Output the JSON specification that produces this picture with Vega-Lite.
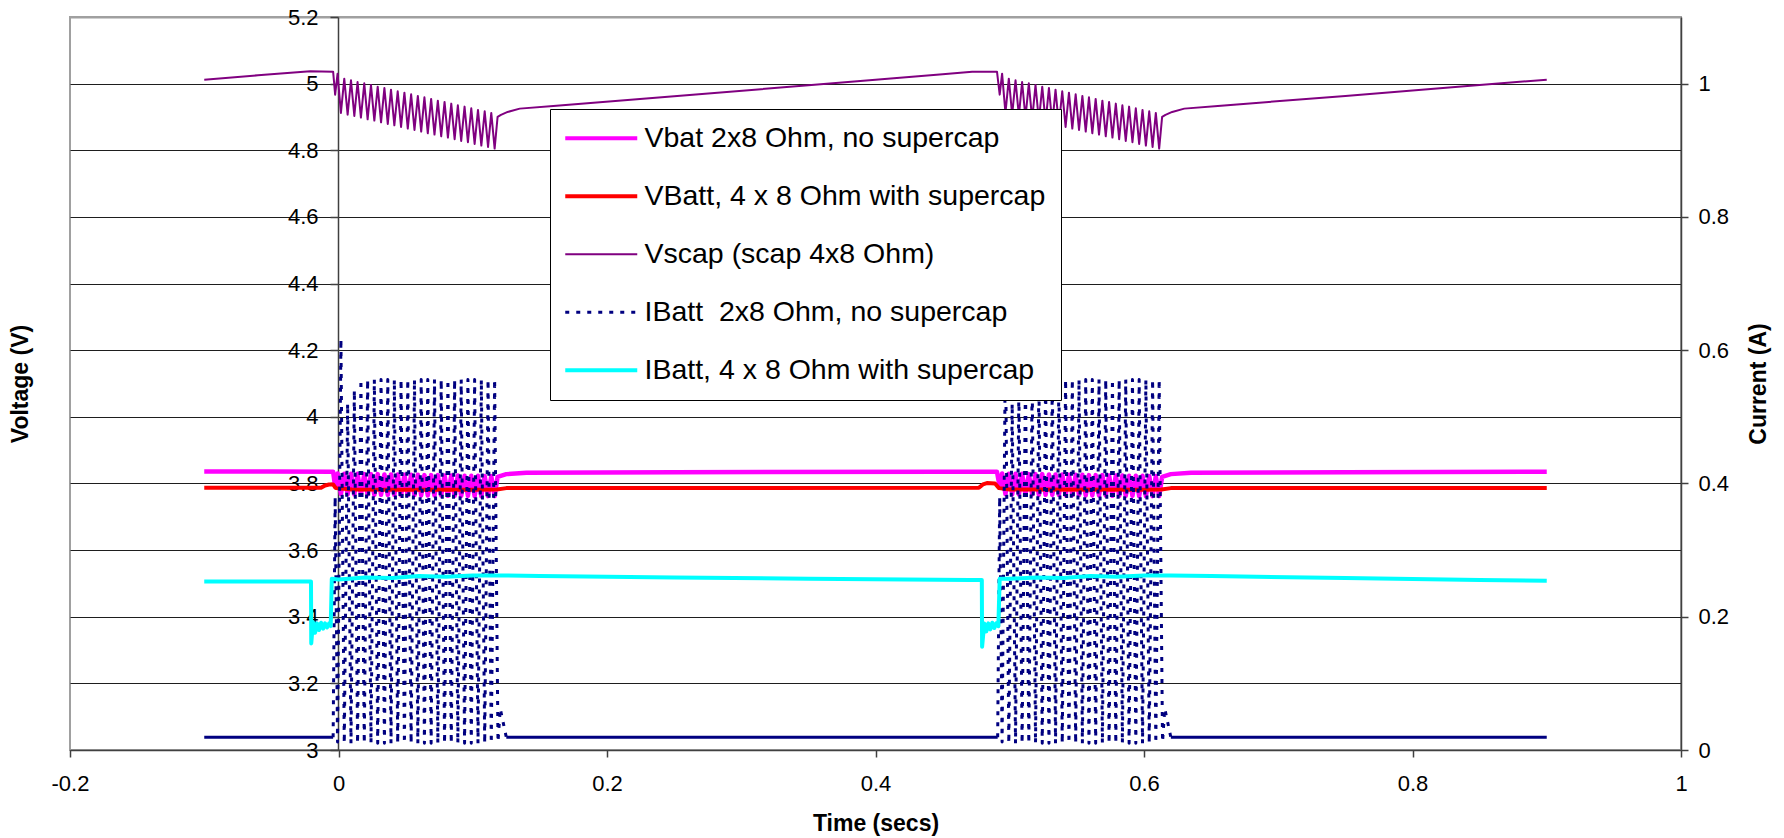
{
  "$schema": "https://vega.github.io/schema/vega-lite/v6.json",
  "width": 1611,
  "height": 733,
  "autosize": {"type": "none"},
  "padding": {"left": 70, "top": 17, "right": 103, "bottom": 88},
  "background": "white",
  "config": {
    "font": "Liberation Sans",
    "view": {"stroke": "#a0a0a0", "strokeWidth": 2},
    "axis": {
      "labelFont": "Liberation Sans", "labelFontSize": 22, "labelColor": "black",
      "titleFont": "Liberation Sans", "titleFontSize": 23, "titleFontWeight": "bold", "titleColor": "black",
      "domainColor": "#404040", "domainWidth": 1.5, "tickColor": "#404040", "tickWidth": 1.5,
      "grid": false, "labelOverlap": false, "labelFlush": false
    },
    "legend": {
      "orient": "none", "legendX": 480, "legendY": 92,
      "symbolType": "M-1.4,0H5.8", "symbolSize": 400, "symbolStrokeWidth": 3.5,
      "labelOffset": 51, "labelFont": "Liberation Sans", "labelFontSize": 28.5, "labelColor": "black", "labelLimit": 700,
      "rowPadding": 29, "padding": 15, "strokeColor": "black", "fillColor": "white"
    }
  },
  "datasets": {
    "vb2": [
      {"t":-0.1,"v":3.836},{"t":-0.05,"v":3.836},{"t":-0.004,"v":3.835},{"t":-0.0025,"v":3.79},
      {"t":-0.0007,"v":3.83},{"t":0.0018,"v":3.768},{"t":0.0043,"v":3.829},{"t":0.0068,"v":3.767},
      {"t":0.0093,"v":3.829},{"t":0.0118,"v":3.767},{"t":0.0142,"v":3.829},{"t":0.0167,"v":3.767},
      {"t":0.0192,"v":3.828},{"t":0.0217,"v":3.767},{"t":0.0242,"v":3.828},{"t":0.0267,"v":3.766},
      {"t":0.0292,"v":3.828},{"t":0.0317,"v":3.766},{"t":0.0342,"v":3.827},{"t":0.0367,"v":3.766},
      {"t":0.0391,"v":3.827},{"t":0.0416,"v":3.766},{"t":0.0441,"v":3.827},{"t":0.0466,"v":3.765},
      {"t":0.0491,"v":3.826},{"t":0.0516,"v":3.765},{"t":0.0541,"v":3.826},{"t":0.0566,"v":3.765},
      {"t":0.0591,"v":3.826},{"t":0.0616,"v":3.764},{"t":0.064,"v":3.825},{"t":0.0665,"v":3.764},
      {"t":0.069,"v":3.825},{"t":0.0715,"v":3.764},{"t":0.074,"v":3.825},{"t":0.0765,"v":3.764},
      {"t":0.079,"v":3.824},{"t":0.0815,"v":3.763},{"t":0.084,"v":3.824},{"t":0.0865,"v":3.763},
      {"t":0.0889,"v":3.824},{"t":0.0914,"v":3.763},{"t":0.0939,"v":3.823},{"t":0.0964,"v":3.763},
      {"t":0.0989,"v":3.823},{"t":0.1014,"v":3.762},{"t":0.1039,"v":3.823},{"t":0.1064,"v":3.762},
      {"t":0.1089,"v":3.822},{"t":0.1114,"v":3.762},{"t":0.1138,"v":3.822},{"t":0.1163,"v":3.762},
      {"t":0.1185,"v":3.82},{"t":0.125,"v":3.828},{"t":0.14,"v":3.832},{"t":0.25,"v":3.834},
      {"t":0.45,"v":3.835},{"t":0.4905,"v":3.835},{"t":0.4925,"v":3.79},
      {"t":0.4943,"v":3.83},{"t":0.4968,"v":3.768},{"t":0.4993,"v":3.829},{"t":0.5018,"v":3.767},
      {"t":0.5043,"v":3.829},{"t":0.5068,"v":3.767},{"t":0.5092,"v":3.829},{"t":0.5117,"v":3.767},
      {"t":0.5142,"v":3.828},{"t":0.5167,"v":3.767},{"t":0.5192,"v":3.828},{"t":0.5217,"v":3.766},
      {"t":0.5242,"v":3.828},{"t":0.5267,"v":3.766},{"t":0.5292,"v":3.827},{"t":0.5317,"v":3.766},
      {"t":0.5341,"v":3.827},{"t":0.5366,"v":3.766},{"t":0.5391,"v":3.827},{"t":0.5416,"v":3.765},
      {"t":0.5441,"v":3.826},{"t":0.5466,"v":3.765},{"t":0.5491,"v":3.826},{"t":0.5516,"v":3.765},
      {"t":0.5541,"v":3.826},{"t":0.5566,"v":3.764},{"t":0.559,"v":3.825},{"t":0.5615,"v":3.764},
      {"t":0.564,"v":3.825},{"t":0.5665,"v":3.764},{"t":0.569,"v":3.825},{"t":0.5715,"v":3.764},
      {"t":0.574,"v":3.824},{"t":0.5765,"v":3.763},{"t":0.579,"v":3.824},{"t":0.5815,"v":3.763},
      {"t":0.5839,"v":3.824},{"t":0.5864,"v":3.763},{"t":0.5889,"v":3.823},{"t":0.5914,"v":3.763},
      {"t":0.5939,"v":3.823},{"t":0.5964,"v":3.762},{"t":0.5989,"v":3.823},{"t":0.6014,"v":3.762},
      {"t":0.6039,"v":3.822},{"t":0.6064,"v":3.762},{"t":0.6088,"v":3.822},{"t":0.6113,"v":3.762},
      {"t":0.6135,"v":3.82},{"t":0.62,"v":3.828},{"t":0.635,"v":3.832},{"t":0.75,"v":3.834},{"t":0.9,"v":3.835}
    ],
    "vb4": [
      {"t":-0.1,"v":3.787},{"t":-0.013,"v":3.787},{"t":-0.01,"v":3.794},{"t":-0.007,"v":3.797},
      {"t":-0.004,"v":3.797},{"t":-0.002,"v":3.786},{"t":0.01,"v":3.782},{"t":0.05,"v":3.781},
      {"t":0.1,"v":3.781},{"t":0.118,"v":3.782},{"t":0.125,"v":3.786},{"t":0.3,"v":3.786},
      {"t":0.477,"v":3.787},{"t":0.48,"v":3.797},{"t":0.483,"v":3.801},{"t":0.489,"v":3.8},
      {"t":0.492,"v":3.786},{"t":0.5,"v":3.782},{"t":0.6,"v":3.781},{"t":0.613,"v":3.782},
      {"t":0.62,"v":3.786},{"t":0.9,"v":3.786}
    ],
    "vsc": [
      {"t":-0.1,"v":5.012},{"t":-0.06,"v":5.025},{"t":-0.021,"v":5.037},{"t":-0.004,"v":5.036},{"t":-0.0025,"v":4.967},
      {"t":-0.0007,"v":5.03},{"t":0.0018,"v":4.912},{"t":0.0043,"v":5.015},{"t":0.0068,"v":4.907},
      {"t":0.0093,"v":5.01},{"t":0.0118,"v":4.903},{"t":0.0142,"v":5.005},{"t":0.0167,"v":4.898},
      {"t":0.0192,"v":5.001},{"t":0.0217,"v":4.893},{"t":0.0242,"v":4.996},{"t":0.0267,"v":4.889},
      {"t":0.0292,"v":4.991},{"t":0.0317,"v":4.884},{"t":0.0342,"v":4.987},{"t":0.0367,"v":4.879},
      {"t":0.0391,"v":4.982},{"t":0.0416,"v":4.875},{"t":0.0441,"v":4.977},{"t":0.0466,"v":4.87},
      {"t":0.0491,"v":4.973},{"t":0.0516,"v":4.865},{"t":0.0541,"v":4.968},{"t":0.0566,"v":4.861},
      {"t":0.0591,"v":4.963},{"t":0.0616,"v":4.856},{"t":0.064,"v":4.959},{"t":0.0665,"v":4.851},
      {"t":0.069,"v":4.954},{"t":0.0715,"v":4.847},{"t":0.074,"v":4.949},{"t":0.0765,"v":4.842},
      {"t":0.079,"v":4.945},{"t":0.0815,"v":4.838},{"t":0.084,"v":4.94},{"t":0.0865,"v":4.833},
      {"t":0.0889,"v":4.935},{"t":0.0914,"v":4.828},{"t":0.0939,"v":4.931},{"t":0.0964,"v":4.824},
      {"t":0.0989,"v":4.926},{"t":0.1014,"v":4.819},{"t":0.1039,"v":4.921},{"t":0.1064,"v":4.814},
      {"t":0.1089,"v":4.917},{"t":0.1114,"v":4.81},{"t":0.1138,"v":4.912},{"t":0.1163,"v":4.805},
      {"t":0.1185,"v":4.9},{"t":0.121,"v":4.906},{"t":0.126,"v":4.915},{"t":0.135,"v":4.925},
      {"t":0.16,"v":4.933},{"t":0.25,"v":4.962},{"t":0.35,"v":4.995},{"t":0.45,"v":5.028},
      {"t":0.472,"v":5.036},{"t":0.4905,"v":5.036},{"t":0.4925,"v":4.967},
      {"t":0.4943,"v":5.03},{"t":0.4968,"v":4.912},{"t":0.4993,"v":5.015},{"t":0.5018,"v":4.907},
      {"t":0.5043,"v":5.01},{"t":0.5068,"v":4.903},{"t":0.5092,"v":5.005},{"t":0.5117,"v":4.898},
      {"t":0.5142,"v":5.001},{"t":0.5167,"v":4.893},{"t":0.5192,"v":4.996},{"t":0.5217,"v":4.889},
      {"t":0.5242,"v":4.991},{"t":0.5267,"v":4.884},{"t":0.5292,"v":4.987},{"t":0.5317,"v":4.879},
      {"t":0.5341,"v":4.982},{"t":0.5366,"v":4.875},{"t":0.5391,"v":4.977},{"t":0.5416,"v":4.87},
      {"t":0.5441,"v":4.973},{"t":0.5466,"v":4.865},{"t":0.5491,"v":4.968},{"t":0.5516,"v":4.861},
      {"t":0.5541,"v":4.963},{"t":0.5566,"v":4.856},{"t":0.559,"v":4.959},{"t":0.5615,"v":4.851},
      {"t":0.564,"v":4.954},{"t":0.5665,"v":4.847},{"t":0.569,"v":4.949},{"t":0.5715,"v":4.842},
      {"t":0.574,"v":4.945},{"t":0.5765,"v":4.838},{"t":0.579,"v":4.94},{"t":0.5815,"v":4.833},
      {"t":0.5839,"v":4.935},{"t":0.5864,"v":4.828},{"t":0.5889,"v":4.931},{"t":0.5914,"v":4.824},
      {"t":0.5939,"v":4.926},{"t":0.5964,"v":4.819},{"t":0.5989,"v":4.921},{"t":0.6014,"v":4.814},
      {"t":0.6039,"v":4.917},{"t":0.6064,"v":4.81},{"t":0.6088,"v":4.912},{"t":0.6113,"v":4.805},
      {"t":0.6135,"v":4.9},{"t":0.616,"v":4.906},{"t":0.621,"v":4.915},{"t":0.63,"v":4.925},
      {"t":0.655,"v":4.933},{"t":0.75,"v":4.963},{"t":0.85,"v":4.996},{"t":0.9,"v":5.012}
    ],
    "ib2idle": [
      {"t":-0.1,"a":0.019},{"t":-0.004,"a":0.019},{"t":0.06,"a":null},
      {"t":0.125,"a":0.019},{"t":0.3,"a":0.019},{"t":0.491,"a":0.019},{"t":0.55,"a":null},
      {"t":0.62,"a":0.019},{"t":0.9,"a":0.019}
    ],
    "ib2pulse": [
      {"t":-0.004,"a":0.019},{"t":-0.0025,"a":0.38},{"t":-0.0007,"a":0.012},{"t":0.0018,"a":0.617},
      {"t":0.0043,"a":0.01},{"t":0.0068,"a":0.52},{"t":0.0093,"a":0.01},{"t":0.0118,"a":0.54},
      {"t":0.0142,"a":0.01},{"t":0.0167,"a":0.556},{"t":0.0192,"a":0.01},{"t":0.0217,"a":0.556},
      {"t":0.0242,"a":0.01},{"t":0.0267,"a":0.556},{"t":0.0292,"a":0.01},{"t":0.0317,"a":0.556},
      {"t":0.0342,"a":0.01},{"t":0.0367,"a":0.556},{"t":0.0391,"a":0.01},{"t":0.0416,"a":0.556},
      {"t":0.0441,"a":0.01},{"t":0.0466,"a":0.556},{"t":0.0491,"a":0.01},{"t":0.0516,"a":0.556},
      {"t":0.0541,"a":0.01},{"t":0.0566,"a":0.556},{"t":0.0591,"a":0.01},{"t":0.0616,"a":0.556},
      {"t":0.064,"a":0.01},{"t":0.0665,"a":0.556},{"t":0.069,"a":0.01},{"t":0.0715,"a":0.556},
      {"t":0.074,"a":0.01},{"t":0.0765,"a":0.556},{"t":0.079,"a":0.01},{"t":0.0815,"a":0.556},
      {"t":0.084,"a":0.01},{"t":0.0865,"a":0.556},{"t":0.0889,"a":0.01},{"t":0.0914,"a":0.556},
      {"t":0.0939,"a":0.01},{"t":0.0964,"a":0.556},{"t":0.0989,"a":0.01},{"t":0.1014,"a":0.556},
      {"t":0.1039,"a":0.01},{"t":0.1064,"a":0.556},{"t":0.1089,"a":0.01},{"t":0.1114,"a":0.556},
      {"t":0.1138,"a":0.01},{"t":0.1163,"a":0.556},{"t":0.1188,"a":0.012},{"t":0.1205,"a":0.062},
      {"t":0.125,"a":0.019},{"t":0.3,"a":null},
      {"t":0.491,"a":0.019},{"t":0.4925,"a":0.38},{"t":0.4943,"a":0.012},{"t":0.4968,"a":0.617},
      {"t":0.4993,"a":0.01},{"t":0.5018,"a":0.52},{"t":0.5043,"a":0.01},{"t":0.5068,"a":0.54},
      {"t":0.5092,"a":0.01},{"t":0.5117,"a":0.556},{"t":0.5142,"a":0.01},{"t":0.5167,"a":0.556},
      {"t":0.5192,"a":0.01},{"t":0.5217,"a":0.556},{"t":0.5242,"a":0.01},{"t":0.5267,"a":0.556},
      {"t":0.5292,"a":0.01},{"t":0.5317,"a":0.556},{"t":0.5341,"a":0.01},{"t":0.5366,"a":0.556},
      {"t":0.5391,"a":0.01},{"t":0.5416,"a":0.556},{"t":0.5441,"a":0.01},{"t":0.5466,"a":0.556},
      {"t":0.5491,"a":0.01},{"t":0.5516,"a":0.556},{"t":0.5541,"a":0.01},{"t":0.5566,"a":0.556},
      {"t":0.559,"a":0.01},{"t":0.5615,"a":0.556},{"t":0.564,"a":0.01},{"t":0.5665,"a":0.556},
      {"t":0.569,"a":0.01},{"t":0.5715,"a":0.556},{"t":0.574,"a":0.01},{"t":0.5765,"a":0.556},
      {"t":0.579,"a":0.01},{"t":0.5815,"a":0.556},{"t":0.5839,"a":0.01},{"t":0.5864,"a":0.556},
      {"t":0.5889,"a":0.01},{"t":0.5914,"a":0.556},{"t":0.5939,"a":0.01},{"t":0.5964,"a":0.556},
      {"t":0.5989,"a":0.01},{"t":0.6014,"a":0.556},{"t":0.6039,"a":0.01},{"t":0.6064,"a":0.556},
      {"t":0.6088,"a":0.01},{"t":0.6113,"a":0.556},{"t":0.6138,"a":0.012},{"t":0.6155,"a":0.062},
      {"t":0.62,"a":0.019}
    ],
    "ib4": [
      {"t":-0.1,"a":0.253},{"t":-0.0205,"a":0.253},{"t":-0.0203,"a":0.16},{"t":-0.019,"a":0.192},
      {"t":-0.0175,"a":0.176},{"t":-0.016,"a":0.19},{"t":-0.0145,"a":0.18},{"t":-0.013,"a":0.191},
      {"t":-0.0115,"a":0.182},{"t":-0.01,"a":0.19},{"t":-0.0085,"a":0.184},{"t":-0.007,"a":0.19},
      {"t":-0.0058,"a":0.186},{"t":-0.005,"a":0.257},{"t":0.0,"a":0.256},{"t":0.02,"a":0.259},
      {"t":0.04,"a":0.258},{"t":0.06,"a":0.261},{"t":0.08,"a":0.26},{"t":0.1,"a":0.262},
      {"t":0.12,"a":0.262},{"t":0.15,"a":0.261},{"t":0.25,"a":0.259},{"t":0.35,"a":0.257},
      {"t":0.47,"a":0.255},{"t":0.4792,"a":0.255},{"t":0.4794,"a":0.155},{"t":0.481,"a":0.19},
      {"t":0.4825,"a":0.178},{"t":0.484,"a":0.19},{"t":0.4855,"a":0.181},{"t":0.487,"a":0.191},
      {"t":0.4885,"a":0.183},{"t":0.49,"a":0.19},{"t":0.4915,"a":0.186},{"t":0.4925,"a":0.257},
      {"t":0.5,"a":0.257},{"t":0.52,"a":0.259},{"t":0.54,"a":0.258},{"t":0.56,"a":0.261},
      {"t":0.58,"a":0.26},{"t":0.6,"a":0.262},{"t":0.62,"a":0.262},{"t":0.65,"a":0.261},
      {"t":0.75,"a":0.258},{"t":0.85,"a":0.255},{"t":0.9,"a":0.254}
    ]
  },
  "encoding": {
    "x": {
      "field": "t", "type": "quantitative",
      "scale": {"domain": [-0.2, 1], "nice": false, "zero": false},
      "axis": {
        "values": [-0.2, 0, 0.2, 0.4, 0.6, 0.8, 1], "format": "~g",
        "labelExpr": "replace(datum.label, '\u2212', '-')",
        "tickSize": 7, "labelPadding": 16,
        "title": "Time (secs)", "titleY": 73, "titleBaseline": "middle"
      }
    }
  },
  "layer": [
    {
      "encoding": {
        "y": {
          "field": "v", "type": "quantitative",
          "scale": {"domain": [3, 5.2], "nice": false, "zero": false},
          "axis": {
            "orient": "left", "offset": -268,
            "values": [3, 3.2, 3.4, 3.6, 3.8, 4, 4.2, 4.4, 4.6, 4.8, 5, 5.2], "format": "~g",
            "grid": true,
            "gridColor": {"condition": {"test": "datum.value > 5.1", "value": "#a0a0a0"}, "value": "#1e1e1e"},
            "gridWidth": {"condition": {"test": "datum.value > 5.1", "value": 2}, "value": 1},
            "tickSize": 8, "labelPadding": 12,
            "title": "Voltage (V)", "titleX": -318, "titleY": 366.5, "titleAngle": 270,
            "titleBaseline": "middle", "titleAlign": "center"
          }
        }
      },
      "layer": [
        {
          "data": {"name": "vb2"},
          "mark": {"type": "line", "strokeWidth": 4.5, "strokeJoin": "round"},
          "encoding": {
            "color": {"datum": "Vbat 2x8 Ohm, no supercap", "type": "nominal",
              "scale": {"domain": ["Vbat 2x8 Ohm, no supercap", "VBatt, 4 x 8 Ohm with supercap", "Vscap (scap 4x8 Ohm)", "IBatt\u00a0 2x8 Ohm, no supercap", "IBatt, 4 x 8 Ohm with supercap"], "range": ["#ff00ff", "#ff0000", "#800080", "#000080", "#00ffff"]},
              "legend": {"title": null, "symbolType": "M-1.4,0H5.8"}
            }
          }
        },
        {
          "data": {"name": "vb4"},
          "mark": {"type": "line", "strokeWidth": 4, "strokeJoin": "round"},
          "encoding": {
            "color": {"datum": "VBatt, 4 x 8 Ohm with supercap", "type": "nominal"}
          }
        },
        {
          "data": {"name": "vsc"},
          "mark": {"type": "line", "strokeWidth": 2, "strokeJoin": "round"},
          "encoding": {
            "color": {"datum": "Vscap (scap 4x8 Ohm)", "type": "nominal"}
          }
        }
      ]
    },
    {
      "encoding": {
        "y": {
          "field": "a", "type": "quantitative",
          "scale": {"domain": [0, 1.1], "nice": false, "zero": true},
          "axis": {
            "orient": "right",
            "values": [0, 0.2, 0.4, 0.6, 0.8, 1], "format": "~g",
            "grid": false, "tickSize": 7, "labelPadding": 10,
            "title": "Current (A)", "titleX": 77, "titleY": 366.5, "titleAngle": 270,
            "titleBaseline": "middle", "titleAlign": "center"
          }
        }
      },
      "layer": [
        {
          "data": {"name": "ib2idle"},
          "mark": {"type": "line", "strokeWidth": 3, "strokeJoin": "round"},
          "encoding": {
            "color": {"datum": "IBatt\u00a0 2x8 Ohm, no supercap", "type": "nominal"}
          }
        },
        {
          "data": {"name": "ib2pulse"},
          "mark": {"type": "line", "strokeJoin": "round"},
          "encoding": {
            "color": {"datum": "IBatt\u00a0 2x8 Ohm, no supercap", "type": "nominal"},
            "strokeDash": {"datum": "IBatt\u00a0 2x8 Ohm, no supercap", "type": "nominal",
              "scale": {"domain": ["Vbat 2x8 Ohm, no supercap", "VBatt, 4 x 8 Ohm with supercap", "Vscap (scap 4x8 Ohm)", "IBatt\u00a0 2x8 Ohm, no supercap", "IBatt, 4 x 8 Ohm with supercap"], "range": [[1, 0], [1, 0], [1, 0], [4, 7], [1, 0]]},
              "legend": {"title": null, "symbolType": "M-1.4,0H5.8"}
            },
            "strokeWidth": {"datum": "IBatt\u00a0 2x8 Ohm, no supercap", "type": "nominal",
              "scale": {"type": "ordinal", "domain": ["Vbat 2x8 Ohm, no supercap", "VBatt, 4 x 8 Ohm with supercap", "Vscap (scap 4x8 Ohm)", "IBatt\u00a0 2x8 Ohm, no supercap", "IBatt, 4 x 8 Ohm with supercap"], "range": [4, 4, 2, 3, 4]},
              "legend": {"title": null, "symbolType": "M-1.4,0H5.8"}
            }
          }
        },
        {
          "data": {"name": "ib4"},
          "mark": {"type": "line", "strokeWidth": 4, "strokeJoin": "round"},
          "encoding": {
            "color": {"datum": "IBatt, 4 x 8 Ohm with supercap", "type": "nominal"}
          }
        }
      ]
    }
  ],
  "resolve": {"scale": {"y": "independent"}}
}
